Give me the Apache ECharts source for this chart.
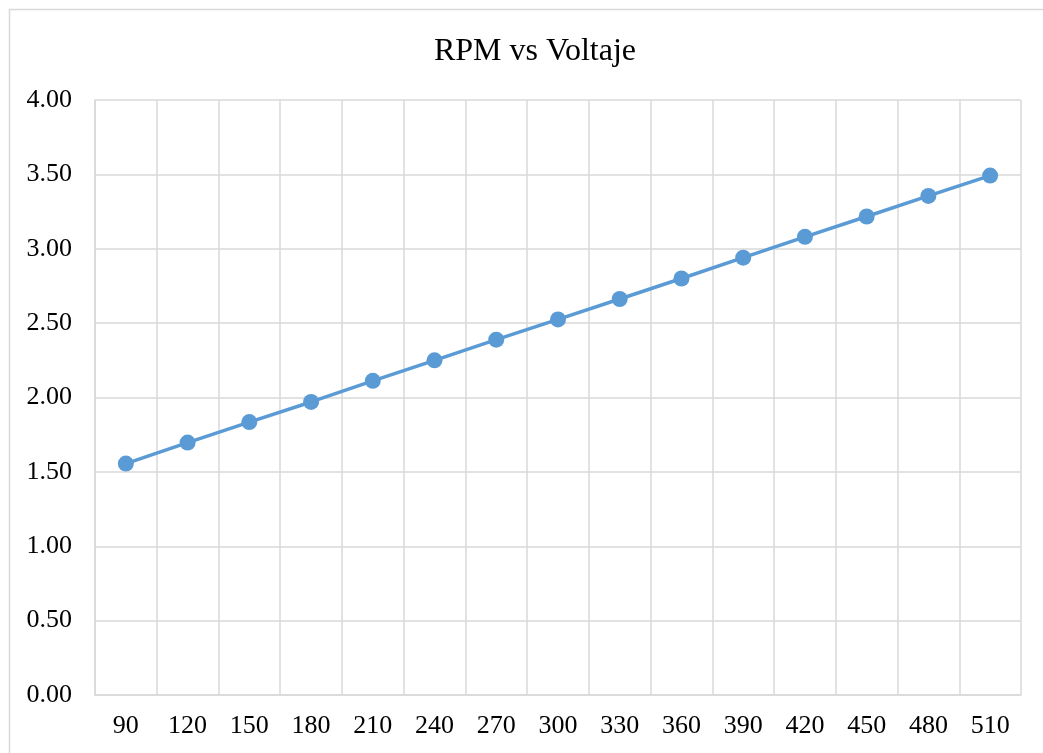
<!DOCTYPE html>
<html>
<head>
<meta charset="utf-8">
<script src="https://cdn.jsdelivr.net/npm/echarts@6/dist/echarts.min.js"></script>
<style>
html,body{margin:0;padding:0;background:#fff;}
#chart{width:1043px;height:753px;}
</style>
</head>
<body>
<div id="chart"></div>
<script>
const categories = ['90','120','150','180','210','240','270','300','330','360','390','420','450','480','510'];
const voltaje = [1.556, 1.697, 1.835, 1.970, 2.112, 2.250, 2.389, 2.525, 2.662, 2.800, 2.940, 3.080, 3.217, 3.355, 3.492];
const titleText = 'RPM vs Voltaje';

const chart = echarts.init(document.getElementById('chart'), null, {renderer: 'canvas'});
const font = 'Liberation Serif';
chart.setOption({
  animation: false,
  backgroundColor: '#ffffff',
  graphic: [{
    type: 'rect',
    shape: {x: 9.5, y: 9.5, width: 1060, height: 780},
    style: {fill: 'none', stroke: '#d9d9d9', lineWidth: 1.5},
    silent: true
  }],
  title: {
    text: titleText,
    left: 530,
    top: 31,
    textAlign: 'center',
    textStyle: {fontFamily: font, fontSize: 32, fontWeight: 'normal', color: '#000'}
  },
  grid: {left: 95, right: 22, top: 100, bottom: 58, containLabel: false},
  xAxis: {
    type: 'category',
    data: categories,
    boundaryGap: true,
    axisLine: {show: true, lineStyle: {color: '#d9d9d9', width: 1.5}},
    axisTick: {show: false},
    splitLine: {show: true, interval: 0, lineStyle: {color: '#d9d9d9', width: 1.5}},
    axisLabel: {interval: 0, margin: 18, fontFamily: font, fontSize: 26, color: '#000'}
  },
  yAxis: {
    type: 'value',
    min: 0, max: 4, interval: 0.5,
    axisLine: {show: true, lineStyle: {color: '#d9d9d9', width: 1.5}},
    axisTick: {show: false},
    splitLine: {show: true, lineStyle: {color: '#d9d9d9', width: 1.5}},
    axisLabel: {margin: 23, fontFamily: font, fontSize: 26, color: '#000',
      formatter: v => v.toFixed(2)}
  },
  series: [{
    type: 'line',
    data: voltaje,
    symbol: 'circle',
    symbolSize: 16,
    lineStyle: {color: '#5b9bd5', width: 3.5},
    itemStyle: {color: '#5b9bd5'}
  }]
});
</script>
</body>
</html>
